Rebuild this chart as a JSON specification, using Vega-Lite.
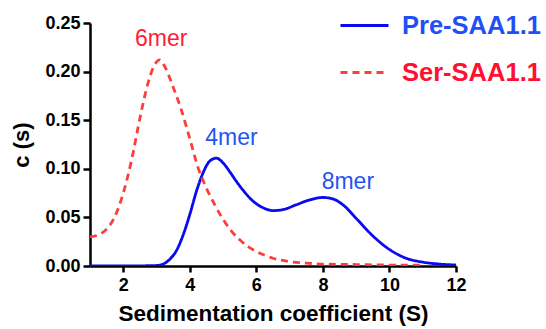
{
  "$schema": "https://vega.github.io/schema/vega-lite/v6.json",
  "autosize": {"type": "none"},
  "padding": {"left": 90, "top": 23, "right": 90, "bottom": 63},
  "width": 366,
  "height": 243,
  "background": "white",
  "config": {
    "view": {"stroke": null},
    "font": "Liberation Sans"
  },
  "datasets": {
    "curves": [
      {"s": 1.0, "c": 0.0, "series": "Pre-SAA1.1"},
      {"s": 2.0, "c": 0.0, "series": "Pre-SAA1.1"},
      {"s": 3.0, "c": 0.0005, "series": "Pre-SAA1.1"},
      {"s": 3.2, "c": 0.002, "series": "Pre-SAA1.1"},
      {"s": 3.4, "c": 0.007, "series": "Pre-SAA1.1"},
      {"s": 3.6, "c": 0.016, "series": "Pre-SAA1.1"},
      {"s": 3.8, "c": 0.032, "series": "Pre-SAA1.1"},
      {"s": 4.0, "c": 0.053, "series": "Pre-SAA1.1"},
      {"s": 4.2, "c": 0.077, "series": "Pre-SAA1.1"},
      {"s": 4.4, "c": 0.096, "series": "Pre-SAA1.1"},
      {"s": 4.6, "c": 0.108, "series": "Pre-SAA1.1"},
      {"s": 4.8, "c": 0.111, "series": "Pre-SAA1.1"},
      {"s": 5.0, "c": 0.106, "series": "Pre-SAA1.1"},
      {"s": 5.2, "c": 0.097, "series": "Pre-SAA1.1"},
      {"s": 5.4, "c": 0.087, "series": "Pre-SAA1.1"},
      {"s": 5.6, "c": 0.078, "series": "Pre-SAA1.1"},
      {"s": 5.8, "c": 0.070, "series": "Pre-SAA1.1"},
      {"s": 6.0, "c": 0.064, "series": "Pre-SAA1.1"},
      {"s": 6.2, "c": 0.060, "series": "Pre-SAA1.1"},
      {"s": 6.5, "c": 0.057, "series": "Pre-SAA1.1"},
      {"s": 6.8, "c": 0.058, "series": "Pre-SAA1.1"},
      {"s": 7.2, "c": 0.063, "series": "Pre-SAA1.1"},
      {"s": 7.6, "c": 0.068, "series": "Pre-SAA1.1"},
      {"s": 8.0, "c": 0.0705, "series": "Pre-SAA1.1"},
      {"s": 8.3, "c": 0.069, "series": "Pre-SAA1.1"},
      {"s": 8.6, "c": 0.063, "series": "Pre-SAA1.1"},
      {"s": 9.0, "c": 0.049, "series": "Pre-SAA1.1"},
      {"s": 9.5, "c": 0.031, "series": "Pre-SAA1.1"},
      {"s": 10.0, "c": 0.017, "series": "Pre-SAA1.1"},
      {"s": 10.5, "c": 0.008, "series": "Pre-SAA1.1"},
      {"s": 11.0, "c": 0.004, "series": "Pre-SAA1.1"},
      {"s": 11.5, "c": 0.002, "series": "Pre-SAA1.1"},
      {"s": 12.0, "c": 0.001, "series": "Pre-SAA1.1"},
      {"s": 1.0, "c": 0.030, "series": "Ser-SAA1.1"},
      {"s": 1.25, "c": 0.032, "series": "Ser-SAA1.1"},
      {"s": 1.5, "c": 0.038, "series": "Ser-SAA1.1"},
      {"s": 1.75, "c": 0.051, "series": "Ser-SAA1.1"},
      {"s": 2.0, "c": 0.075, "series": "Ser-SAA1.1"},
      {"s": 2.25, "c": 0.109, "series": "Ser-SAA1.1"},
      {"s": 2.5, "c": 0.152, "series": "Ser-SAA1.1"},
      {"s": 2.75, "c": 0.189, "series": "Ser-SAA1.1"},
      {"s": 3.0, "c": 0.210, "series": "Ser-SAA1.1"},
      {"s": 3.1, "c": 0.212, "series": "Ser-SAA1.1"},
      {"s": 3.25, "c": 0.205, "series": "Ser-SAA1.1"},
      {"s": 3.5, "c": 0.184, "series": "Ser-SAA1.1"},
      {"s": 3.75, "c": 0.160, "series": "Ser-SAA1.1"},
      {"s": 4.0, "c": 0.131, "series": "Ser-SAA1.1"},
      {"s": 4.25, "c": 0.101, "series": "Ser-SAA1.1"},
      {"s": 4.5, "c": 0.080, "series": "Ser-SAA1.1"},
      {"s": 4.75, "c": 0.063, "series": "Ser-SAA1.1"},
      {"s": 5.0, "c": 0.048, "series": "Ser-SAA1.1"},
      {"s": 5.25, "c": 0.036, "series": "Ser-SAA1.1"},
      {"s": 5.5, "c": 0.027, "series": "Ser-SAA1.1"},
      {"s": 5.75, "c": 0.020, "series": "Ser-SAA1.1"},
      {"s": 6.0, "c": 0.015, "series": "Ser-SAA1.1"},
      {"s": 6.5, "c": 0.008, "series": "Ser-SAA1.1"},
      {"s": 7.0, "c": 0.0045, "series": "Ser-SAA1.1"},
      {"s": 7.5, "c": 0.003, "series": "Ser-SAA1.1"},
      {"s": 8.0, "c": 0.002, "series": "Ser-SAA1.1"},
      {"s": 9.0, "c": 0.0015, "series": "Ser-SAA1.1"},
      {"s": 10.0, "c": 0.001, "series": "Ser-SAA1.1"},
      {"s": 11.0, "c": 0.001, "series": "Ser-SAA1.1"}
    ],
    "labels": [
      {"s": 3.14, "c": 0.2263, "label": "6mer", "series": "Ser-SAA1.1"},
      {"s": 5.25, "c": 0.1245, "label": "4mer", "series": "Pre-SAA1.1"},
      {"s": 8.75, "c": 0.0792, "label": "8mer", "series": "Pre-SAA1.1"}
    ]
  },
  "layer": [
    {
      "data": {"name": "curves"},
      "mark": {"type": "line", "interpolate": "monotone", "strokeWidth": 2.8, "clip": true},
      "encoding": {
        "x": {
          "field": "s", "type": "quantitative",
          "scale": {"domain": [1, 12], "nice": false, "zero": false},
          "axis": {
            "title": "Sedimentation coefficient (S)",
            "values": [2, 4, 6, 8, 10, 12],
            "grid": false,
            "domainColor": "black", "domainWidth": 2.5,
            "tickColor": "black", "tickWidth": 2.5, "tickSize": 6,
            "labelFont": "Liberation Sans", "labelFontSize": 18, "labelFontWeight": "bold", "labelColor": "black",
            "labelPadding": 4, "labelFlush": false,
            "titleFont": "Liberation Sans", "titleFontSize": 22.5, "titleFontWeight": "bold", "titleColor": "black",
            "titlePadding": 8
          }
        },
        "y": {
          "field": "c", "type": "quantitative",
          "scale": {"domain": [0, 0.25], "nice": false},
          "axis": {
            "title": "c (s)",
            "values": [0, 0.05, 0.1, 0.15, 0.2, 0.25],
            "format": ".2f",
            "grid": false,
            "domainColor": "black", "domainWidth": 2.5,
            "tickColor": "black", "tickWidth": 2.5, "tickSize": 7,
            "labelFont": "Liberation Sans", "labelFontSize": 18, "labelFontWeight": "bold", "labelColor": "black",
            "labelPadding": 3, "labelFlush": false,
            "titleFont": "Liberation Sans", "titleFontSize": 22, "titleFontWeight": "bold", "titleColor": "black",
            "titlePadding": 11
          }
        },
        "color": {
          "field": "series", "type": "nominal",
          "scale": {"domain": ["Pre-SAA1.1", "Ser-SAA1.1"], "range": ["#0a0af0", "#ff3c3c"]},
          "legend": {
            "title": null,
            "orient": "none",
            "legendX": 249,
            "legendY": -23,
            "symbolType": "stroke",
            "symbolSize": 2304,
            "symbolStrokeWidth": 2.8,
            "labelFont": "Liberation Sans",
            "labelFontSize": 25.5,
            "labelFontWeight": "bold",
            "labelOffset": 12,
            "rowPadding": 8,
            "labelLimit": 300,
            "encode": {
              "labels": {"update": {"fill": {"signal": "datum.value === 'Pre-SAA1.1' ? '#1f4ff5' : '#ff1030'"}}}
            }
          }
        },
        "strokeDash": {
          "field": "series", "type": "nominal",
          "scale": {"domain": ["Pre-SAA1.1", "Ser-SAA1.1"], "range": [[1, 0], [7, 5]]},
          "legend": {
            "title": null,
            "orient": "none",
            "legendX": 249,
            "legendY": -23,
            "symbolType": "stroke",
            "symbolSize": 2304,
            "symbolStrokeWidth": 2.8,
            "labelFont": "Liberation Sans",
            "labelFontSize": 25.5,
            "labelFontWeight": "bold",
            "labelOffset": 12,
            "rowPadding": 8,
            "labelLimit": 300,
            "encode": {
              "labels": {"update": {"fill": {"signal": "datum.value === 'Pre-SAA1.1' ? '#1f4ff5' : '#ff1030'"}}}
            }
          }
        }
      }
    },
    {
      "data": {"name": "labels"},
      "mark": {"type": "text", "font": "Liberation Sans", "fontSize": 23, "align": "center", "baseline": "alphabetic"},
      "encoding": {
        "x": {"field": "s", "type": "quantitative"},
        "y": {"field": "c", "type": "quantitative"},
        "text": {"field": "label"},
        "fill": {
          "field": "series", "type": "nominal",
          "scale": {"domain": ["Pre-SAA1.1", "Ser-SAA1.1"], "range": ["#1f55f0", "#ff2035"]},
          "legend": null
        }
      }
    }
  ]
}
